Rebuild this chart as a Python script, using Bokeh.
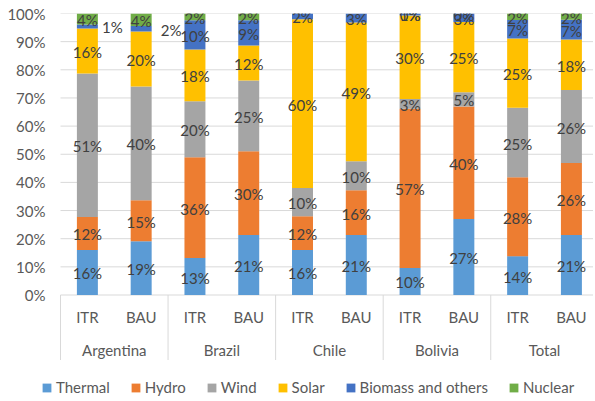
import numpy as np
from bokeh.plotting import figure
from bokeh.models import (ColumnDataSource, Range1d, FixedTicker, PrintfTickFormatter,
                          Legend, LegendItem)
from bokeh.core.properties import value
from bokeh.embed import file_html
from bokeh.resources import INLINE

# ---------------- data ----------------
countries = ["Argentina", "Brazil", "Chile", "Bolivia", "Total"]
scenarios = ["ITR", "BAU"]
series = ["Thermal", "Hydro", "Wind", "Solar", "Biomass and others", "Nuclear"]
colors = ["#5B9BD5", "#ED7D31", "#A5A5A5", "#FFC000", "#4472C4", "#70AD47"]

# shares (%) per bar: Arg ITR, Arg BAU, Bra ITR, Bra BAU, Chi ITR, Chi BAU,
#                     Bol ITR, Bol BAU, Tot ITR, Tot BAU
thermal = [16.0, 19.1, 13.1, 21.3, 16.0, 21.3, 9.6, 27.0, 13.8, 21.3]
hydro   = [11.7, 14.6, 35.8, 29.8, 12.0, 15.9, 56.6, 40.0, 28.0, 25.6]
wind    = [51.0, 40.4, 19.9, 25.1, 10.0, 10.3, 3.4, 5.0, 24.7, 25.9]
solar   = [16.0, 19.5, 18.4, 12.4, 60.0, 49.3, 29.7, 25.0, 24.6, 18.0]
biomass = [1.4, 2.0, 10.4, 9.0, 2.0, 3.2, 0.7, 3.0, 6.6, 7.0]
nuclear = [3.9, 4.4, 2.4, 2.4, None, None, 0.0, 0.0, 2.3, 2.2]

y_ticks = [0, 10, 20, 30, 40, 50, 60, 70, 80, 90, 100]

# ---------------- styling / layout ----------------
FONT = "Lato"
W, H = 593, 399
PX_PER_UNIT = 2.815          # pixels per percentage point
SLOT_PX = 53.78              # pixels per bar slot
BORDER_L, BORDER_T = 40, 13
PLOT_LEFT_PX = 20            # gap between frame edge and first category boundary
FRAME_W = W - BORDER_L
FRAME_H = H - BORDER_T
label_dx = {(0, 4): 25, (1, 4): 30}   # (bar, series) -> x offset for moved labels

values = [thermal, hydro, wind, solar, biomass, nuclear]
bars = [(c, s) for c in countries for s in scenarios]
n = len(bars)
xc = np.arange(n) + 0.5

x0 = -PLOT_LEFT_PX / SLOT_PX
p = figure(width=W, height=H, output_backend="svg", toolbar_location=None,
           x_range=Range1d(x0, x0 + FRAME_W / SLOT_PX),
           y_range=Range1d(100 - FRAME_H / PX_PER_UNIT, 100),
           x_axis_location=None, min_border_left=BORDER_L, min_border_right=0,
           min_border_top=BORDER_T, min_border_bottom=0)
p.outline_line_color = None
p.background_fill_color = "white"
p.border_fill_color = "white"
p.grid.visible = False

ax = p.yaxis[0]
ax.ticker = FixedTicker(ticks=y_ticks)
ax.formatter = PrintfTickFormatter(format="%d%%")
ax.axis_line_color = None
ax.major_tick_line_color = None
ax.minor_tick_line_color = None
ax.major_tick_out = 0
ax.major_tick_in = 0
ax.major_label_standoff = -5
ax.major_label_text_font = FONT
ax.major_label_text_font_size = "15px"
ax.major_label_text_color = "#595959"

# horizontal gridlines starting at the first category boundary
p.segment(x0=[0] * len(y_ticks), y0=y_ticks, x1=[n] * len(y_ticks), y1=y_ticks,
          line_color="#D9D9D9", line_width=1)

# stacked bars
bottom = np.zeros(n)
renderers = []
lx, ly, lt, lo = [], [], [], []
for k, (name, vals, col) in enumerate(zip(series, values, colors)):
    v = np.array([np.nan if a is None else a for a in vals], dtype=float)
    top = bottom + np.nan_to_num(v)
    src = ColumnDataSource(dict(x=xc, bottom=bottom.copy(), top=np.where(np.isnan(v), np.nan, top)))
    r = p.vbar(x="x", bottom="bottom", top="top", width=0.39, source=src,
               fill_color=col, line_color=None)
    renderers.append(r)
    for i in range(n):
        if not np.isnan(v[i]):
            lx.append(xc[i])
            ly.append(bottom[i] + v[i] / 2)
            lt.append(f"{int(np.floor(v[i] + 0.5))}%")
            lo.append(label_dx.get((i, k), 0))
    bottom = top

lsrc = ColumnDataSource(dict(x=lx, y=ly, text=lt, xo=lo))
p.text(x="x", y="y", text="text", x_offset="xo", y_offset=1, source=lsrc,
       text_align="center", text_baseline="alphabetic",
       text_font=value(FONT), text_font_size="15px", text_color="#404040")

# category axis (drawn inside extended frame)
sub_src = ColumnDataSource(dict(x=xc, y=np.zeros(n), text=[b[1] for b in bars]))
p.text(x="x", y="y", text="text", y_offset=22, source=sub_src, text_align="center",
       text_baseline="alphabetic", text_font=value(FONT), text_font_size="15px",
       text_color="#595959")
gx = [np.mean([xc[i] for i in range(n) if bars[i][0] == c]) for c in countries]
grp_src = ColumnDataSource(dict(x=gx, y=[0] * len(countries), text=countries))
p.text(x="x", y="y", text="text", y_offset=55, source=grp_src, text_align="center",
       text_baseline="alphabetic", text_font=value(FONT), text_font_size="15px",
       text_color="#595959")
sep_x = [i for i in range(n) if bars[i][1] == scenarios[0]] + [n]
sep_len = 65 / PX_PER_UNIT
p.segment(x0=sep_x, y0=[0] * len(sep_x), x1=sep_x, y1=[-sep_len] * len(sep_x),
          line_color="#D9D9D9", line_width=1)

legend = Legend(items=[LegendItem(label=s, renderers=[r]) for s, r in zip(series, renderers)],
                orientation="horizontal", location=(1, 3),
                glyph_width=11, glyph_height=11, label_standoff=4, spacing=20,
                padding=0, margin=0, border_line_color=None, background_fill_alpha=0,
                label_text_font=FONT, label_text_font_size="15px",
                label_text_color="#595959", label_height=11)
p.add_layout(legend)

open("out.html", "w").write(file_html(p, INLINE))
